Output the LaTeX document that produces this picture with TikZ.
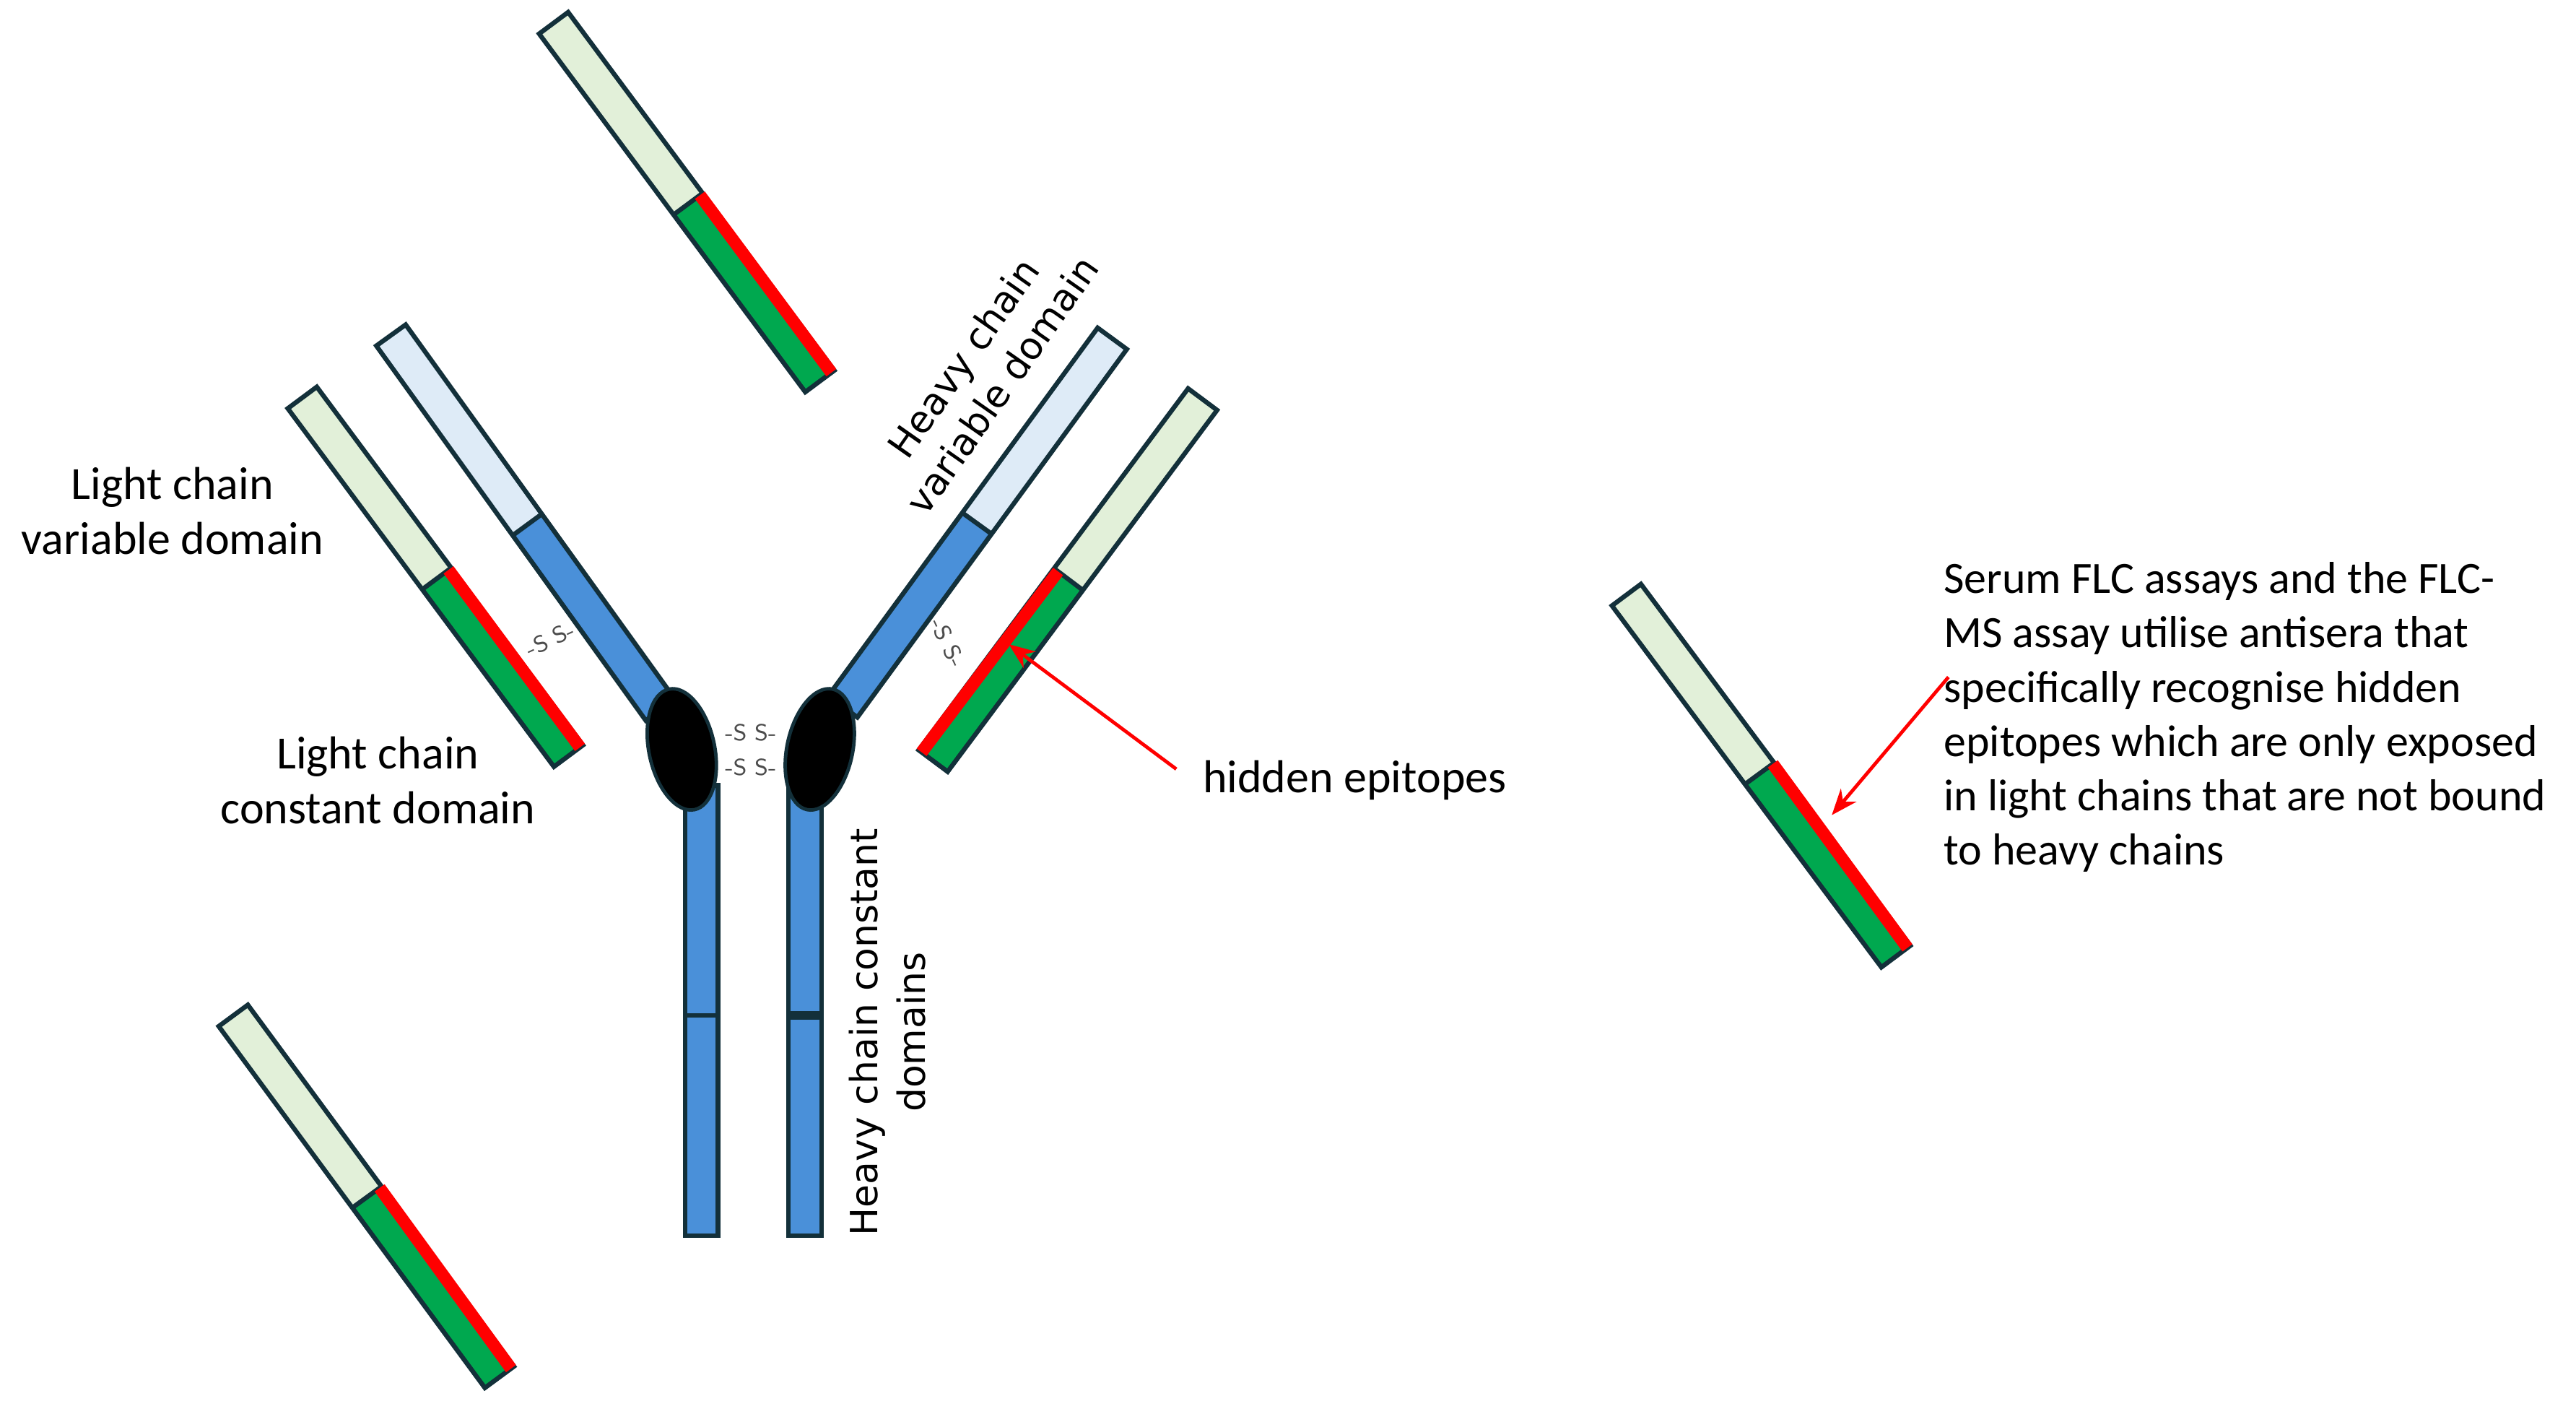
\documentclass[tikz,border=0pt]{standalone}
\usepackage{fontspec}
\setmainfont{Carlito}
\newfontfamily\hcfont{DejaVu Sans}
\usetikzlibrary{calc,shapes.geometric,arrows.meta}
\definecolor{lgreen}{HTML}{E2F0D9}
\definecolor{dgreen}{HTML}{00A84F}
\definecolor{lblue}{HTML}{DEEBF7}
\definecolor{mblue}{HTML}{4A90D9}
\definecolor{edge}{HTML}{13303A}
\tikzset{x=0.02cm,y=-0.02cm,
 lbl/.style={font=\fontsize{16}{19}\selectfont,align=center},
 hlbl/.style={font=\hcfont\fontsize{13}{16.5}\selectfont,align=center},
 ss/.style={font=\sffamily\fontsize{8}{9}\selectfont,text=black!70,inner sep=0},
 redarrow/.style={draw=red,line width=1.2pt,-{Stealth[length=9pt,width=7pt]}}}
\newcommand\chainbar[5]{%
 \fill[#4] ($(#1)!0.22cm!90:(#3)$) -- ($(#1)!0.22cm!-90:(#3)$) -- ($(#2)!0.22cm!-90:(#3)$) -- ($(#2)!0.22cm!90:(#3)$) -- cycle;
 \fill[#5] ($(#2)!0.22cm!90:(#3)$) -- ($(#2)!0.22cm!-90:(#3)$) -- ($(#3)!0.22cm!90:(#1)$) -- ($(#3)!0.22cm!-90:(#1)$) -- cycle;
}
\newcommand\chainoutline[3]{%
 \draw[edge,line width=1.6pt] ($(#1)!0.22cm!90:(#3)$) -- ($(#1)!0.22cm!-90:(#3)$) -- ($(#3)!0.22cm!90:(#1)$) -- ($(#3)!0.22cm!-90:(#1)$) -- cycle;
 \draw[edge,line width=1.6pt] ($(#2)!0.22cm!90:(#3)$) -- ($(#2)!0.22cm!-90:(#3)$);
}
\newcommand\redside[4]{%
 \fill[red] ($(#2)!0.25cm!#4:(#3)$) -- ($(#2)!0.1cm!#4:(#3)$) -- ($(#3)!0.1cm!-#4:(#1)$) -- ($(#3)!0.25cm!-#4:(#1)$) -- cycle;
}
\newcommand\lightchain[4]{%
 \chainbar{#1}{#2}{#3}{lgreen}{dgreen}\chainoutline{#1}{#2}{#3}\redside{#1}{#2}{#3}{#4}}
\begin{document}
\begin{tikzpicture}
\useasboundingbox (0,0) rectangle (1568,857);
\coordinate (t1a) at (337,14); \coordinate (t1s) at (419,124); \coordinate (t1b) at (499,232);
\coordinate (l1a) at (184,242); \coordinate (l1s) at (266,352); \coordinate (l1b) at (346,460);
\coordinate (b1a) at (142,618); \coordinate (b1s) at (224,728); \coordinate (b1b) at (304,838);
\coordinate (r1a) at (732,243); \coordinate (r1s) at (651,353); \coordinate (r1b) at (568,463);
\coordinate (f1a) at (990,362); \coordinate (f1s) at (1072,470); \coordinate (f1b) at (1154,582);
\lightchain{t1a}{t1s}{t1b}{90}
\lightchain{l1a}{l1s}{l1b}{90}
\lightchain{b1a}{b1s}{b1b}{90}
\lightchain{r1a}{r1s}{r1b}{-90}
\lightchain{f1a}{f1s}{f1b}{90}
\coordinate (hla) at (238,204); \coordinate (hls) at (320,320); \coordinate (hlb) at (402,432);
\coordinate (hra) at (677,206); \coordinate (hrs) at (594,318); \coordinate (hrb) at (513,430);
\chainbar{hla}{hls}{hlb}{lblue}{mblue}\chainoutline{hla}{hls}{hlb}
\chainbar{hra}{hrs}{hrb}{lblue}{mblue}\chainoutline{hra}{hrs}{hrb}
\draw[edge,line width=1.6pt,fill=mblue] (417,478) rectangle (437,752);
\draw[edge,line width=1.6pt] (417,618) -- (437,618);
\draw[edge,line width=1.6pt,fill=mblue] (480,478) rectangle (500,752);
\draw[edge,line width=3pt] (480,618) -- (500,618);
\node[ellipse,fill=black,draw=edge,line width=1.2pt,minimum width=0.8cm,minimum height=1.5cm,rotate=12] (el) at (415,456) {};
\node[ellipse,fill=black,draw=edge,line width=1.2pt,minimum width=0.8cm,minimum height=1.5cm,rotate=-12] (er) at (499,456) {};
\node[ss] (ss1) at (457,446) {-S\,\,S-};
\node[ss] (ss2) at (457,467) {-S\,\,S-};
\node[ss,rotate=25] (ss3) at (335,389) {-S\,\,S-};
\node[ss,rotate=-65] (ss4) at (577,391) {-S\,\,S-};
\node[lbl] (lcv) at (105,311) {Light chain\\variable domain};
\node[lbl] (lcc) at (230,475) {Light chain\\constant domain};
\node[hlbl,rotate=55] (hcv) at (598,226) {Heavy chain\\variable domain};
\node[hlbl,rotate=90] (hcc) at (540,628) {Heavy chain constant\\domains};
\node[lbl,anchor=west] (he) at (726,475) {hidden epitopes};
\node[lbl,anchor=north west,align=left,font=\fontsize{15.5}{18.8}\selectfont] (txt) at (1177,336) {Serum FLC assays and the FLC-\\MS assay utilise antisera that\\specifically recognise hidden\\epitopes which are only exposed\\in light chains that are not bound\\to heavy chains};
\coordinate (a1s) at (716,468); \coordinate (a1e) at (614,392);
\coordinate (a2s) at (1186,412); \coordinate (a2e) at (1115,496);
\draw[redarrow] (a1s) -- (a1e);
\draw[redarrow] (a2s) -- (a2e);
\end{tikzpicture}
\end{document}
